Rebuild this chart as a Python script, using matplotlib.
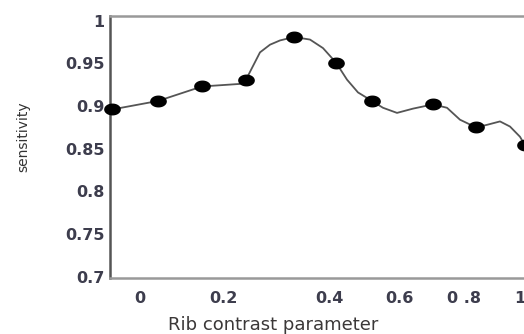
import matplotlib.pyplot as plt
import numpy as np
from matplotlib.path import Path

# measured points (x in plot position units, y = sensitivity)
point_x = [0.02, 0.48, 0.92, 1.36, 1.84, 2.26, 2.62, 3.23, 3.66, 4.15]
point_y = [0.896, 0.906, 0.923, 0.931, 0.981, 0.951, 0.906, 0.902, 0.875, 0.854]

# traced connecting curve
curve_x = [0.02, 0.48, 0.92, 1.30, 1.36, 1.43, 1.50, 1.60, 1.70, 1.84, 2.00, 2.13,
           2.26, 2.37, 2.48, 2.62, 2.73, 2.87, 3.03, 3.23, 3.37, 3.50, 3.66, 3.77,
           3.90, 4.00, 4.10, 4.15]
curve_y = [0.896, 0.906, 0.923, 0.926, 0.931, 0.947, 0.963, 0.972, 0.977, 0.981, 0.978, 0.968,
           0.951, 0.931, 0.916, 0.906, 0.898, 0.892, 0.897, 0.902, 0.898, 0.884, 0.875, 0.878,
           0.882, 0.876, 0.864, 0.854]

tick_pos = [0.30, 1.13, 2.19, 2.89, 3.54, 4.10]
tick_labels = ['0', '0.2', '0.4', '0.6', '0 .8', '1']
ytick_vals = [0.7, 0.75, 0.8, 0.85, 0.9, 0.95, 1]
ytick_labels = ['0.7', '0.75', '0.8', '0.85', '0.9', '0.95', '1']

# wide ellipse marker
t = np.linspace(0, 2 * np.pi, 40)
ellipse = Path(np.column_stack([1.45 * np.cos(t), np.sin(t)]), closed=True)

fig = plt.figure(figsize=(5.24, 3.34), dpi=100)
ax = fig.add_axes([110 / 524, 55.7 / 334, 430 / 524, 262.6 / 334])

ax.plot(curve_x, curve_y, color='#555555', linewidth=1.3, zorder=2)
ax.plot(point_x, point_y, linestyle='none', marker=ellipse, markersize=11,
        color='black', zorder=3, clip_on=False)

ax.set_xlim(0, 4.3)
ax.set_ylim(0.698, 1.006)

ax.spines['right'].set_visible(False)
ax.spines['left'].set_color('#555555')
ax.spines['top'].set_color('#999999')
ax.spines['bottom'].set_color('#999999')
for s in ['left', 'top', 'bottom']:
    ax.spines[s].set_linewidth(1.8)

ax.set_xticks(tick_pos, tick_labels)
ax.set_yticks(ytick_vals, ytick_labels)
ax.tick_params(length=0)
ax.tick_params(axis='x', pad=9)
ax.tick_params(axis='y', pad=4)
for lab in ax.get_xticklabels() + ax.get_yticklabels():
    lab.set_fontweight('bold')
    lab.set_fontsize(11.5)
    lab.set_color('#3d3d4d')

fig.text(273 / 524, 1 - 325 / 334, 'Rib contrast parameter', ha='center', va='center',
         fontsize=13, family='DejaVu Sans', color='#3b3838')
fig.text(23 / 524, 1 - 136.7 / 334, 'sensitivity', rotation=90, ha='center', va='center',
         fontsize=10, family=['Liberation Sans Narrow', 'DejaVu Sans'], color='#333333')

fig.savefig('out.png', dpi=100)
